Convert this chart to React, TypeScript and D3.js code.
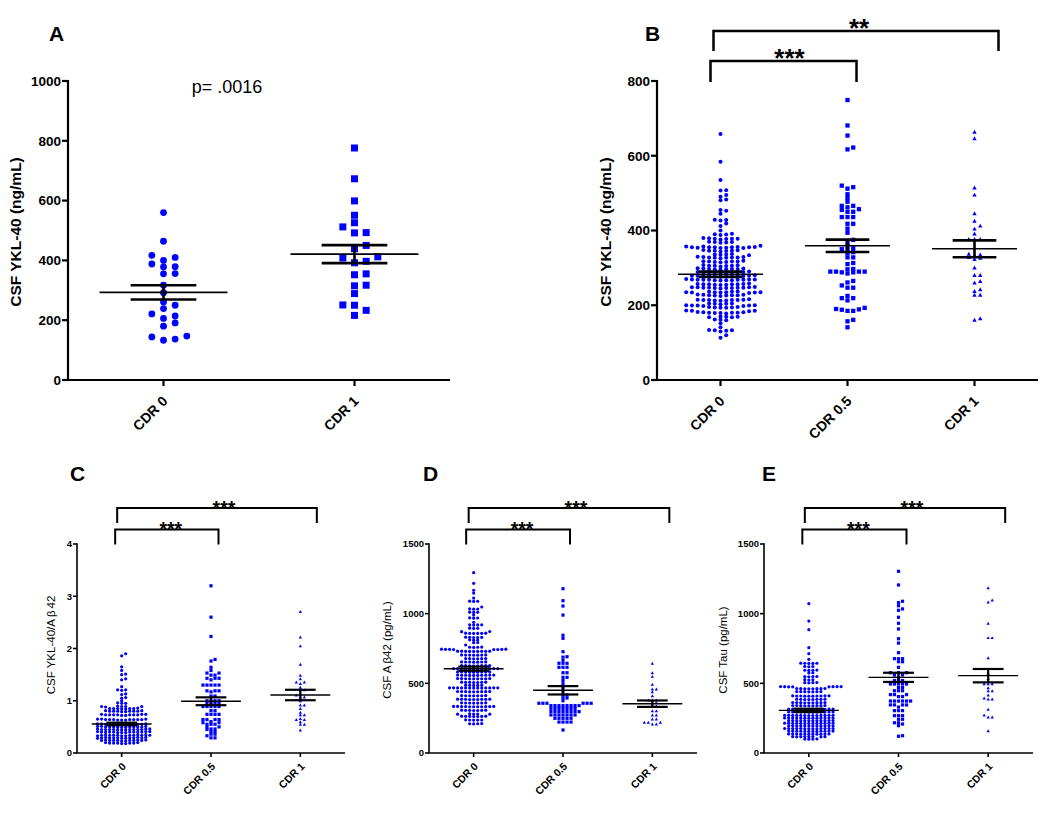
import React from "react";
import * as d3 from "d3";

const FONT = "'Liberation Sans', Arial, Helvetica, sans-serif";
const BLUE = "#0000ff";

// ---------- categories ----------
const groups2 = ["CDR 0", "CDR 1"];
const groups3 = ["CDR 0", "CDR 0.5", "CDR 1"];

// ---------- tick labels ----------
const ticksA = [0, 200, 400, 600, 800, 1000];
const ticksB = [0, 200, 400, 600, 800];
const ticksC = [0, 1, 2, 3, 4];
const ticksDE = [0, 500, 1000, 1500];

// ---------- Panel A : CSF YKL-40 (ng/mL) ----------
const A_cdr0 = [560, 464, 417, 400, 410, 379, 378, 388, 356, 355, 317, 292, 261, 250, 239, 221, 214, 206, 191, 180, 144, 133, 137, 147];
const A_cdr1 = [776, 673, 599, 551, 526, 512, 493, 492, 450, 439, 412, 397, 408, 392, 352, 355, 315, 317, 289, 250, 251, 216, 233];
const A_mean = [293, 421];
const A_sem = [24, 30];

// ---------- Panel B : CSF YKL-40 (ng/mL) ----------
const B_cdr0 = [
  658, 584, 535, 507, 508, 495, 490, 483, 481, 455, 453, 445, 428, 427, 429, 419, 412, 400,
  390, 389, 388, 391,
  378, 377, 379, 378, 376, 380, 378,
  369, 368, 370, 369, 367,
  359,
  355, 354, 356, 355, 353, 357, 355, 354, 356, 355, 353, 357, 355,
  346, 345, 347, 346, 344, 348, 346,
  336, 335, 337, 336, 334,
  328, 327, 329, 328, 326, 330, 328, 327, 329,
  317, 316, 318, 317, 315, 319, 317, 316,
  306, 305, 307, 306, 304, 308, 306,
  297, 296, 298, 297, 295, 299, 297, 296, 298,
  288, 287, 289, 288, 286, 290, 288, 287, 289, 288,
  278, 277, 279, 278, 276, 280, 278, 277, 279, 278, 277, 279,
  268, 267, 269, 268, 266, 270, 268, 267, 269, 268, 267, 269, 268,
  256, 255, 257, 256, 254, 258, 256, 255, 257, 256,
  247, 246, 248, 247, 245, 249, 247, 246, 248, 247, 246, 248,
  235, 234, 236, 235, 233, 237, 235, 234, 236, 235, 234,
  227, 226, 228, 227, 225, 229, 227, 226, 228,
  214, 213, 215, 214, 212, 216, 214, 213, 215, 214,
  204, 203, 205, 204, 205,
  199, 198, 200, 199, 198, 200, 199,
  194, 193, 195, 194, 193, 195,
  185, 184, 186, 185,
  180, 179, 181, 180, 178, 182, 180, 179, 181,
  169, 168, 170, 169, 168,
  161, 160, 162,
  152, 141, 133, 132, 134, 133, 130, 120, 113,
];
const B_cdr05 = [
  749, 681, 654, 617, 622, 520, 516, 512, 497, 487, 477, 466, 462, 455, 457, 466, 450, 450,
  436, 436, 436, 418, 418, 405, 394, 375, 367, 358, 353, 350, 348, 342, 339, 328, 328, 313, 310,
  297, 290, 290, 290, 285, 288, 288, 290, 296, 265, 261, 253, 247, 247, 225, 219, 213, 219,
  190, 188, 185, 185, 189, 193, 161, 157, 141,
];
const B_cdr1 = [664, 647, 515, 496, 446, 426, 413, 405, 392, 377, 377, 377, 336, 329, 324, 327, 333, 338, 301, 281, 281, 261, 265, 243, 238, 228, 228, 161, 165];
const B_mean = [283, 359, 351];
const B_sem = [7, 16.5, 22.5];

// ---------- Panel C : CSF YKL-40/Aβ42 ----------
const C_cdr0 = [
  1.90, 1.86, 1.65, 1.58, 1.50, 1.51, 1.42, 1.40, 1.27, 1.21, 1.20, 1.21, 1.13, 1.12, 1.06, 1.05, 1.00,
  0.95, 0.95, 0.96,
  0.89, 0.89, 0.90, 0.89, 0.88, 0.89,
  0.85, 0.85, 0.84, 0.85, 0.86, 0.85, 0.84, 0.85,
  0.80, 0.80, 0.81, 0.80, 0.79, 0.80, 0.81, 0.80, 0.79, 0.80,
  0.73, 0.73, 0.74, 0.73, 0.72, 0.73, 0.74, 0.73, 0.72, 0.73, 0.74, 0.73,
  0.64, 0.64, 0.65, 0.64, 0.63, 0.64, 0.65, 0.64, 0.63, 0.64, 0.65, 0.64, 0.63,
  0.55, 0.55, 0.56, 0.55, 0.54, 0.55, 0.56, 0.55, 0.54, 0.55, 0.56, 0.55, 0.54,
  0.50, 0.50, 0.51, 0.50, 0.49, 0.50, 0.51, 0.50, 0.49, 0.50, 0.51, 0.50, 0.49,
  0.45, 0.45, 0.46, 0.45, 0.44, 0.45, 0.46, 0.45, 0.44, 0.45, 0.46, 0.45, 0.44, 0.45,
  0.40, 0.40, 0.41, 0.40, 0.39, 0.40, 0.41, 0.40, 0.39, 0.40, 0.41, 0.40, 0.39, 0.40,
  0.34, 0.34, 0.35, 0.34, 0.33, 0.34, 0.35, 0.34, 0.33, 0.34, 0.35, 0.34, 0.33, 0.34,
  0.29, 0.29, 0.30, 0.29, 0.28, 0.29, 0.30, 0.29, 0.28, 0.29, 0.30, 0.29, 0.28,
  0.24, 0.24, 0.25, 0.24, 0.23, 0.24, 0.25, 0.24, 0.23, 0.24, 0.25, 0.24,
  0.19, 0.19, 0.20, 0.19, 0.18, 0.19, 0.20, 0.19, 0.18,
];
const C_cdr05 = [
  3.20, 2.60, 2.23, 1.79, 1.76, 1.64, 1.58, 1.53, 1.53, 1.49, 1.49, 1.43, 1.43, 1.43, 1.40,
  1.30, 1.30, 1.30, 1.30, 1.30, 1.19, 1.19, 1.19, 1.17, 1.09, 1.09, 1.00, 1.00, 1.00, 1.00,
  0.95, 0.95, 0.95, 0.95, 0.89, 0.89, 0.89, 0.89, 0.89, 0.81, 0.81, 0.74, 0.74, 0.74, 0.74,
  0.64, 0.64, 0.64, 0.64, 0.60, 0.58, 0.58, 0.55, 0.55, 0.55, 0.50, 0.50, 0.46, 0.46, 0.45,
  0.41, 0.41, 0.36, 0.36, 0.33, 0.29, 0.29,
];
const C_cdr1 = [2.71, 2.22, 2.05, 1.70, 1.49, 1.42, 1.36, 1.36, 1.33, 1.26, 1.21, 1.21, 1.14, 1.11, 1.07, 1.07, 1.00, 0.92, 0.92, 0.85, 0.78, 0.73, 0.73, 0.66, 0.64, 0.64, 0.60, 0.55, 0.55, 0.44];
const C_mean = [0.555, 0.99, 1.11];
const C_sem = [0.025, 0.075, 0.10];

// ---------- Panel D : CSF Aβ42 (pg/mL) ----------
const D_cdr0 = [
  1294, 1218, 1168, 1148, 1112, 1089, 1088, 1090, 1048, 1033, 1032, 1034, 1010, 1009, 1011, 990,
  969, 968, 970, 938, 919, 918, 920, 919, 895, 894, 896, 871, 872,
  859, 858, 860, 859, 858, 860,
  830, 829, 831, 830, 829,
  811, 810, 812, 792, 793, 775,
  759, 758, 760, 759,
  744, 743, 745, 744, 743, 745, 744, 743,
  730, 729, 731, 730, 729, 731, 730, 729, 731,
  703, 702, 704, 703, 702, 704, 703,
  677, 676, 678, 677, 676, 678,
  653, 652, 654, 653, 652, 654, 653,
  627, 626, 628, 627, 626, 628, 627, 626,
  605, 604, 606, 605, 604, 606, 605, 604, 606, 605, 604, 606,
  581, 580, 582, 581, 580, 582, 581, 580, 582,
  558, 557, 559, 558, 557, 559, 558, 557, 559, 558,
  533, 532, 534, 533, 532, 534, 533, 532, 534,
  507, 506, 508, 507, 506, 508, 507,
  486, 485, 487, 486, 485,
  467, 466, 468, 467, 466, 468, 467, 466, 468, 467, 466, 468, 467,
  440, 439, 441, 440, 439, 441, 440, 439, 441,
  411, 410, 412, 411, 410, 412, 411,
  385, 384, 386, 385, 384, 386, 385, 384, 386,
  359, 358, 360, 359, 358, 360, 359,
  333, 332, 334, 333, 332, 334, 333, 332, 334, 333, 332,
  306, 305, 307, 306, 305, 307, 306,
  280, 279, 281, 280, 279,
  263, 262, 264, 263, 262, 264, 263,
  237, 236, 238, 237, 236,
  210, 209, 211, 210,
];
const D_cdr05 = [
  1179, 1093, 1055, 990, 845, 823, 727, 691, 688, 666, 644, 644, 644, 615, 615, 615, 576, 576,
  543, 543, 520, 497, 470, 445, 416, 416, 395, 395, 375,
  357, 357, 357, 357, 357, 357,
  340, 340, 340, 340, 340, 340, 340, 340,
  320, 320, 320, 320, 320, 320, 320,
  297, 297, 297, 297, 297, 297, 297, 297,
  273, 273, 273, 273, 273, 273, 273,
  249, 249, 249, 249, 249,
  222, 222, 222, 222, 165,
];
const D_cdr1 = [644, 576, 550, 493, 459, 459, 440, 411, 380, 380, 380, 362, 362, 340, 340, 304, 304, 273, 273, 244, 244, 220, 220, 220, 208, 208];
const D_mean = [605, 450, 354];
const D_sem = [15, 30, 23];

// ---------- Panel E : CSF Tau (pg/mL) ----------
const E_cdr0 = [
  1072, 947, 885, 756, 713, 672,
  644, 643, 645, 644, 643,
  620, 619, 621,
  594, 593, 595, 594,
  575, 576,
  548, 547, 549, 548,
  525, 524, 526,
  505, 504, 506, 505,
  476, 475, 477, 476, 475, 477, 476, 475,
  462, 461, 463, 462, 461, 463, 462, 461,
  440, 439, 441, 440, 439, 441, 440,
  409, 408, 410, 409, 408, 410, 409, 408, 410, 409,
  385, 384, 386, 385, 384, 386, 385, 384,
  361, 360, 362, 361, 360, 362, 361, 360, 362,
  340, 339, 341, 340, 339, 341, 340, 339, 341,
  314, 313, 315, 314, 313, 315, 314, 313, 315, 314, 313, 315,
  294, 293, 295, 294, 293, 295, 294, 293, 295, 294, 293, 295,
  270, 269, 271, 270, 269, 271, 270, 269, 271, 270, 269, 271, 270,
  251, 250, 252, 251, 250, 252, 251, 250, 252, 251, 250, 252, 251,
  232, 231, 233, 232, 231, 233, 232, 231, 233, 232, 231, 233,
  213, 212, 214, 213, 212, 214, 213, 212, 214, 213, 212, 214, 213,
  194, 193, 195, 194, 193, 195, 194, 193, 195, 194, 193, 195,
  175, 174, 176, 175, 174, 176, 175, 174, 176, 175, 174, 176, 175,
  156, 155, 157, 156, 155, 157, 156, 155, 157, 156, 155, 157,
  136, 135, 137, 136, 135, 137, 136, 135, 137, 136, 135,
  117, 116, 118, 117, 116, 118, 117, 116,
  100, 99, 101, 100,
];
const E_cdr05 = [
  1304, 1206, 1089, 1079, 1057, 1034, 1024, 974, 931, 890, 820, 789, 720, 677, 677, 655, 655, 677,
  615, 576, 576, 576, 560, 560, 543, 520, 520, 520, 495, 495, 495, 495, 495, 470, 470,
  447, 447, 447, 419, 419, 419, 405, 405, 373, 373, 373, 373, 373, 373, 345, 345, 345, 345, 330,
  304, 304, 304, 268, 268, 268, 242, 242, 217, 217, 208, 196, 124, 120,
];
const E_cdr1 = [1186, 1098, 1084, 931, 828, 828, 684, 572, 536, 497, 497, 497, 469, 447, 447, 416, 395, 388, 388, 314, 273, 258, 258, 160];
const E_mean = [306, 543, 555];
const E_sem = [12, 33, 48];

// ---------- layout helpers ----------
type Shape = "circle" | "square" | "triangle";

function swarm(vals: number[], y: (v: number) => number, sx: number, sy: number): number[] {
  const order = vals.map((_, i) => i).sort((a, b) => vals[a] - vals[b]);
  const cols = new Map<number, number[]>();
  const off = new Array(vals.length).fill(0);
  for (const i of order) {
    const py = y(vals[i]);
    for (let k = 0; k < 200; k++) {
      const c = k === 0 ? 0 : k % 2 === 1 ? (k + 1) / 2 : -k / 2;
      const arr = cols.get(c) || [];
      if (arr.every((q) => Math.abs(q - py) >= sy)) {
        arr.push(py);
        cols.set(c, arr);
        off[i] = c * sx;
        break;
      }
    }
  }
  return off;
}

function Marker({ shape, x, y, s }: { shape: Shape; x: number; y: number; s: number }) {
  if (shape === "circle") return <circle cx={x} cy={y} r={s / 2} fill={BLUE} />;
  if (shape === "square") return <rect x={x - s / 2} y={y - s / 2} width={s} height={s} fill={BLUE} />;
  const h = s * 0.9;
  return <path d={`M${x},${y - h / 2}L${x + s / 2},${y + h / 2}L${x - s / 2},${y + h / 2}Z`} fill={BLUE} />;
}

type Bracket = { a: number; b: number; top: number; bottom: number; la: number; rb: number; label: string; starDx: number; starBase: number };

type PanelCfg = {
  letter: string; lx: number; ly: number; lsize: number;
  x0: number; x1: number; yTop: number; yBot: number;
  domain: [number, number]; ticks: number[];
  groups: string[]; data: number[][]; shapes: Shape[]; sizes: number[];
  means: number[]; sems: number[];
  colFrac: number; sy: number;
  axisW: number; tickLen: number; tickFont: number; xFont: number; xdx: number; xdy: number;
  ylabel: React.ReactNode; ylx: number; yly: number; ylFont: number; ylBold: boolean;
  meanW: number; semW: number;
  brackets: Bracket[]; bracketW: number; starFont: number;
};

function Panel({ c }: { c: PanelCfg }) {
  const y = d3.scaleLinear().domain(c.domain).range([c.yBot, c.yTop]);
  const x = d3.scalePoint<string>().domain(c.groups).range([c.x0, c.x1]).padding(0.5);
  const step = x.step();
  const sx = step * c.colFrac;
  const fmt = (v: number) => String(v);
  return (
    <g>
      <text x={c.lx} y={c.ly} fontFamily={FONT} fontWeight="bold" fontSize={c.lsize}>{c.letter}</text>
      {/* points */}
      {c.data.map((vals, gi) => {
        const offs = swarm(vals, (v) => y(v), sx, c.sy);
        const cx = x(c.groups[gi]) as number;
        return (
          <g key={"g" + gi}>
            {vals.map((v, i) => (
              <Marker key={i} shape={c.shapes[gi]} x={cx + offs[i]} y={y(v)} s={c.sizes[gi]} />
            ))}
          </g>
        );
      })}
      {/* mean & SEM */}
      {c.groups.map((g, gi) => {
        const cx = x(g) as number;
        const m = c.means[gi];
        const s = c.sems[gi];
        const mh = step * 0.335;
        const sh = step * 0.172;
        return (
          <g key={"m" + gi} stroke="#000">
            <line x1={cx - mh} x2={cx + mh} y1={y(m)} y2={y(m)} strokeWidth={c.meanW} />
            <line x1={cx - sh} x2={cx + sh} y1={y(m + s)} y2={y(m + s)} strokeWidth={c.semW} />
            <line x1={cx - sh} x2={cx + sh} y1={y(m - s)} y2={y(m - s)} strokeWidth={c.semW} />
            <line x1={cx} x2={cx} y1={y(m + s)} y2={y(m - s)} strokeWidth={c.semW} />
          </g>
        );
      })}
      {/* axes */}
      <line x1={c.x0} x2={c.x0} y1={c.yTop - c.axisW / 2} y2={c.yBot} stroke="#000" strokeWidth={c.axisW} />
      <line x1={c.x0 - c.axisW / 2} x2={c.x1} y1={c.yBot} y2={c.yBot} stroke="#000" strokeWidth={c.axisW} />
      {c.ticks.map((t) => (
        <g key={"t" + t}>
          <line x1={c.x0 - c.tickLen} x2={c.x0} y1={y(t)} y2={y(t)} stroke="#000" strokeWidth={c.axisW} />
          <text x={c.x0 - c.tickLen - 1} y={y(t)} dy="0.36em" textAnchor="end" fontFamily={FONT} fontWeight="bold" fontSize={c.tickFont}>{fmt(t)}</text>
        </g>
      ))}
      {c.groups.map((g) => {
        const cx = x(g) as number;
        return (
          <g key={"x" + g}>
            <line x1={cx} x2={cx} y1={c.yBot} y2={c.yBot + c.tickLen} stroke="#000" strokeWidth={c.axisW} />
            <text transform={`translate(${cx + c.xdx},${c.yBot + c.xdy}) rotate(-45)`} textAnchor="end" fontFamily={FONT} fontWeight="bold" fontSize={c.xFont}>{g}</text>
          </g>
        );
      })}
      <text transform={`translate(${c.ylx},${c.yly}) rotate(-90)`} textAnchor="middle" fontFamily={FONT} fontWeight={c.ylBold ? "bold" : "normal"} fontSize={c.ylFont}>{c.ylabel}</text>
      {/* significance brackets */}
      {c.brackets.map((b, bi) => {
        const xa = (x(c.groups[b.a]) as number) + b.la;
        const xb = (x(c.groups[b.b]) as number) + b.rb;
        return (
          <g key={"b" + bi}>
            <path d={`M${xa},${b.bottom}V${b.top}H${xb}V${b.bottom}`} fill="none" stroke="#000" strokeWidth={c.bracketW} />
            <text x={(xa + xb) / 2 + b.starDx} y={b.starBase} textAnchor="middle" fontFamily={FONT} fontWeight="bold" fontSize={c.starFont}>{b.label}</text>
          </g>
        );
      })}
    </g>
  );
}

const panels: PanelCfg[] = [
  {
    letter: "A", lx: 49, ly: 41, lsize: 21,
    x0: 68, x1: 450, yTop: 81, yBot: 380, domain: [0, 1000], ticks: ticksA,
    groups: groups2, data: [A_cdr0, A_cdr1], shapes: ["circle", "square"], sizes: [6.8, 7],
    means: A_mean, sems: A_sem, colFrac: 0.061, sy: 6.5,
    axisW: 2.2, tickLen: 6, tickFont: 13.5, xFont: 14, xdx: 5, xdy: 22,
    ylabel: "CSF YKL-40 (ng/mL)", ylx: 21, yly: 232, ylFont: 15.5, ylBold: true,
    meanW: 1.6, semW: 2.6, brackets: [], bracketW: 2.5, starFont: 26,
  },
  {
    letter: "B", lx: 645, ly: 41, lsize: 21,
    x0: 657, x1: 1038, yTop: 81, yBot: 380, domain: [0, 800], ticks: ticksB,
    groups: groups3, data: [B_cdr0, B_cdr05, B_cdr1], shapes: ["circle", "square", "triangle"], sizes: [4, 4.3, 4.4],
    means: B_mean, sems: B_sem, colFrac: 0.045, sy: 3.2,
    axisW: 2.2, tickLen: 6, tickFont: 13.5, xFont: 14, xdx: 5, xdy: 22,
    ylabel: "CSF YKL-40 (ng/mL)", ylx: 611, yly: 232, ylFont: 15.5, ylBold: true,
    meanW: 1.6, semW: 2.6,
    brackets: [
      { a: 0, b: 1, top: 61, bottom: 82, la: -10, rb: 9, label: "***", starDx: 6, starBase: 67 },
      { a: 0, b: 2, top: 31, bottom: 51, la: -7, rb: 24, label: "**", starDx: 3, starBase: 37 },
    ],
    bracketW: 2.5, starFont: 26,
  },
  {
    letter: "C", lx: 70, ly: 481, lsize: 21,
    x0: 77, x1: 345, yTop: 544, yBot: 753, domain: [0, 4], ticks: ticksC,
    groups: groups3, data: [C_cdr0, C_cdr05, C_cdr1], shapes: ["circle", "square", "triangle"], sizes: [3.2, 3.2, 3.3],
    means: C_mean, sems: C_sem, colFrac: 0.045, sy: 2.5,
    axisW: 1.6, tickLen: 4, tickFont: 9.5, xFont: 10.5, xdx: 5, xdy: 14,
    ylabel: (<>CSF YKL-40/A<tspan dx="2">β</tspan><tspan dx="2">42</tspan></>), ylx: 55, yly: 645, ylFont: 11.5, ylBold: false,
    meanW: 1.4, semW: 2.2,
    brackets: [
      { a: 0, b: 1, top: 529.5, bottom: 544.5, la: -6.5, rb: 7.5, label: "***", starDx: 4, starBase: 536 },
      { a: 0, b: 2, top: 508, bottom: 523, la: -4.5, rb: 16.5, label: "***", starDx: 7, starBase: 514.5 },
    ],
    bracketW: 2, starFont: 19.5,
  },
  {
    letter: "D", lx: 423, ly: 481, lsize: 21,
    x0: 429, x1: 697, yTop: 544, yBot: 753, domain: [0, 1500], ticks: ticksDE,
    groups: groups3, data: [D_cdr0, D_cdr05, D_cdr1], shapes: ["circle", "square", "triangle"], sizes: [3.2, 3.2, 3.3],
    means: D_mean, sems: D_sem, colFrac: 0.045, sy: 2.5,
    axisW: 1.6, tickLen: 4, tickFont: 9.5, xFont: 10.5, xdx: 5, xdy: 14,
    ylabel: (<>CSF A<tspan dx="2">β</tspan>42 (pg/mL)</>), ylx: 391, yly: 650, ylFont: 11.5, ylBold: false,
    meanW: 1.4, semW: 2.2,
    brackets: [
      { a: 0, b: 1, top: 529.5, bottom: 544.5, la: -7.5, rb: 7, label: "***", starDx: 4, starBase: 536 },
      { a: 0, b: 2, top: 508, bottom: 523, la: -5, rb: 17, label: "***", starDx: 7, starBase: 514.5 },
    ],
    bracketW: 2, starFont: 19.5,
  },
  {
    letter: "E", lx: 762, ly: 481, lsize: 21,
    x0: 764, x1: 1033, yTop: 544, yBot: 753, domain: [0, 1500], ticks: ticksDE,
    groups: groups3, data: [E_cdr0, E_cdr05, E_cdr1], shapes: ["circle", "square", "triangle"], sizes: [3.2, 3.2, 3.3],
    means: E_mean, sems: E_sem, colFrac: 0.045, sy: 2.5,
    axisW: 1.6, tickLen: 4, tickFont: 9.5, xFont: 10.5, xdx: 5, xdy: 14,
    ylabel: "CSF Tau (pg/mL)", ylx: 727, yly: 650, ylFont: 11.5, ylBold: false,
    meanW: 1.4, semW: 2.2,
    brackets: [
      { a: 0, b: 1, top: 529.5, bottom: 544.5, la: -6.5, rb: 8, label: "***", starDx: 4, starBase: 536 },
      { a: 0, b: 2, top: 508, bottom: 523, la: -4, rb: 17, label: "***", starDx: 7, starBase: 514.5 },
    ],
    bracketW: 2, starFont: 19.5,
  },
];

export default function App() {
  return (
    <svg width={1050} height={816} viewBox="0 0 1050 816" style={{ position: "absolute", left: 0, top: 0, background: "#fff" }}>
      <rect width={1050} height={816} fill="#fff" />
      {panels.map((p) => (
        <Panel key={p.letter} c={p} />
      ))}
      <text x={227} y={93} textAnchor="middle" fontFamily={FONT} fontSize={18}>p= .0016</text>
    </svg>
  );
}
